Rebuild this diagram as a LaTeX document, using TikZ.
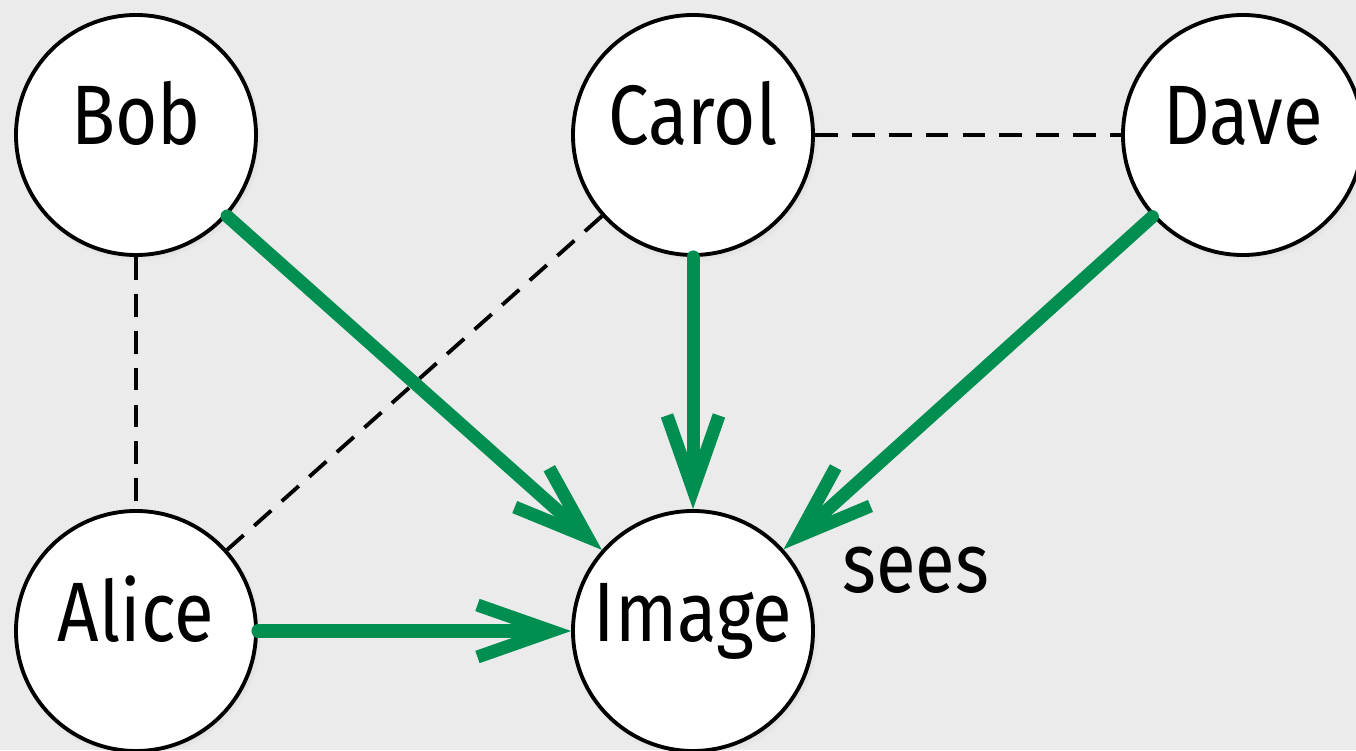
\documentclass[tikz,border=0pt]{standalone}
\usepackage{fontspec}
\setmainfont{Fira Sans}[FakeStretch=0.86]
\usepackage{tikz}
\usetikzlibrary{arrows.meta,positioning,calc,shadows}
\definecolor{fondo}{RGB}{235,235,235}
\definecolor{verde}{RGB}{0,143,80}

\begin{document}
\begin{tikzpicture}[x=1cm,y=1cm,
    persona/.style={circle,draw=black,line width=1.1pt,fill=white,minimum size=2.4cm,inner sep=0pt,
      font=\fontsize{24}{28}\selectfont,text height=0.58cm,text depth=0.38cm,
      circular drop shadow={shadow xshift=0.02cm,shadow yshift=-0.03cm,shadow scale=1.03,opacity=0.25}},
    ve/.style={verde,line width=3.7pt,line cap=round,-{Straight Barb[sharp,length=0.74cm,width=0.52cm]}},
    conoce/.style={black,line width=1.1pt,dash pattern=on 6.5pt off 4pt}]
        \useasboundingbox (0,0) rectangle (13.56,7.5);
        \fill[fondo] (0,0) rectangle (13.56,7.5);
        \node[persona] (Bob) at (1.36,6.15) {Bob};
        \node[persona] (Carol) at (6.93,6.15) {Carol};
        \node[persona] (Dave) at (12.43,6.15) {Dave};
        \node[persona] (Alice) at (1.36,1.19) {Alice};
        \node[persona] (Image) at (6.93,1.19) {Image};
        \draw[conoce] (Bob) -- (Alice);
        \draw[conoce] (Carol) -- (Alice);
        \draw[conoce] (Carol) -- (Dave);
        \draw[ve] (Bob) -- (Image);
        \draw[ve] (Carol) -- (Image);
        \draw[ve] (Dave) -- (Image);
        \draw[ve] (Alice) -- (Image);
        \node[font=\fontsize{24}{28}\selectfont,anchor=base west] (sees) at ($(Image.east)+(0.15,0.38)$) {sees};
      \end{tikzpicture}
\end{document}
